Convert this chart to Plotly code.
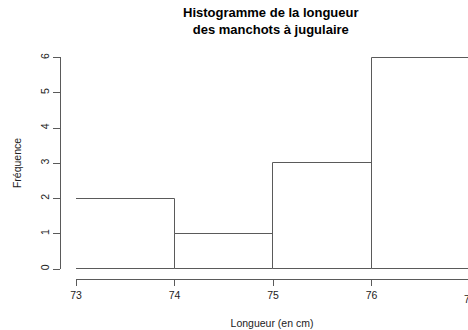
import plotly.graph_objects as go

bin_edges = [73, 74, 75, 76, 77]
counts = [2, 1, 3, 6]
x_ticks = [73, 74, 75, 76, 77]
y_ticks = [0, 1, 2, 3, 4, 5, 6]
title_lines = ["Histogramme de la longueur", "des manchots à jugulaire"]

centers = [(a + b) / 2 for a, b in zip(bin_edges[:-1], bin_edges[1:])]
widths = [b - a for a, b in zip(bin_edges[:-1], bin_edges[1:])]

W, H = 468, 330
L, R, T, B = 60, 0, 57, 51
plot_w = W - L - R
plot_h = H - T - B
x_end = 73 + (W - 76) / 98.5
x_dom0 = 16 / plot_w
LINE = "#5a5a5a"

fig = go.Figure(go.Bar(
    x=centers, y=counts, width=widths,
    marker=dict(color="white", line=dict(color=LINE, width=1)),
    hoverinfo="skip",
))

font = "Liberation Sans, Arial, sans-serif"
shown = [v for v in x_ticks if v <= x_end]
hidden = [v for v in x_ticks if v > x_end]

fig.update_layout(
    width=W, height=H,
    margin=dict(l=L, r=R, t=T, b=B, pad=0),
    paper_bgcolor="white", plot_bgcolor="white",
    showlegend=False,
    bargap=0,
    font=dict(family=font, size=10.5, color="#222"),
    xaxis=dict(
        domain=[x_dom0, 1],
        range=[73, x_end],
        anchor="free", position=0,
        tickvals=shown, ticktext=[str(v) for v in shown],
        ticks="outside", ticklen=6, tickwidth=1, tickcolor=LINE,
        showline=True, linecolor=LINE, linewidth=1,
        showgrid=False, zeroline=False,
        title=dict(text="Longueur (en cm)", standoff=20, font=dict(size=10.5)),
    ),
    yaxis=dict(
        domain=[10 / plot_h, 1],
        range=[0, 6.015],
        anchor="free", position=0,
        tickvals=y_ticks, ticktext=[str(v) for v in y_ticks],
        tickangle=-90,
        ticks="outside", ticklen=7, tickwidth=1, tickcolor=LINE,
        showline=True, linecolor=LINE, linewidth=1,
        showgrid=False, zeroline=False,
        title=dict(text="Fréquence", standoff=14, font=dict(size=10.5)),
    ),
)

fig.add_annotation(
    x=(271 - L) / plot_w, xref="paper", xanchor="center",
    y=1, yref="paper", yanchor="bottom", yshift=18,
    text="<b>" + "<br>".join(title_lines) + "</b>",
    showarrow=False, align="center",
    font=dict(family=font, size=13, color="black"),
)

for v in hidden:
    xp = x_dom0 + (v - 73) / (x_end - 73) * (1 - x_dom0)
    fig.add_annotation(
        x=xp, xref="paper", y=0, yref="paper", yshift=-12,
        text=str(v), showarrow=False, yanchor="top", xanchor="center",
        font=dict(family=font, size=10.5, color="#222"),
    )

fig.write_html(
    "out.html",
    config={"displayModeBar": False},
    post_script="document.body.style.margin='0';document.body.style.overflow='hidden';",
)
